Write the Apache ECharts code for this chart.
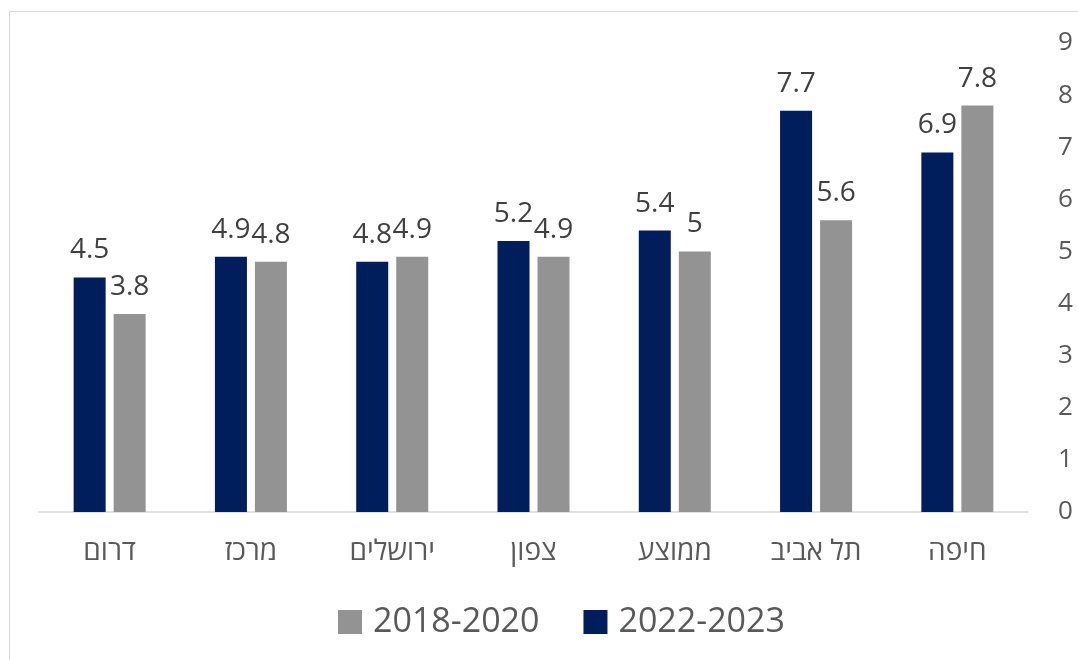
<!DOCTYPE html>
<html><head><meta charset="utf-8">
<script src="https://cdn.jsdelivr.net/npm/echarts@6/dist/echarts.min.js"></script>
<style>html,body{margin:0;padding:0;background:#fff}#c{width:1078px;height:660px}</style>
</head><body><div id="c"></div>
<script>
const categories = ['דרום','מרכז','ירושלים','צפון','ממוצע','תל אביב','חיפה'];
const values2022_2023 = [4.5, 4.9, 4.8, 5.2, 5.4, 7.7, 6.9];
const values2018_2020 = [3.8, 4.8, 4.9, 4.9, 5, 5.6, 7.8];
const seriesNames = ['2018-2020', '2022-2023'];
const yTicks = {min: 0, max: 9, interval: 1};

const font = '"Open Sans","Noto Sans",sans-serif';
const chart = echarts.init(document.getElementById('c'), null, {renderer: 'canvas'});
const labelCfg = {show: true, position: 'top', distance: 13, color: '#404040', fontSize: 28, fontFamily: font};
chart.setOption({
  animation: false,
  backgroundColor: '#fff',
  graphic: [{type: 'rect', shape: {x: 9.5, y: 11.5, width: 1200, height: 800}, style: {fill: 'none', stroke: '#d9d9d9', lineWidth: 1}, silent: true}],
  grid: {left: 39, right: 50, top: 43, bottom: 148},
  legend: {
    data: seriesNames, bottom: 16, left: 333, itemWidth: 24, itemHeight: 24, itemGap: 44,
    icon: 'rect', textStyle: {fontSize: 34, color: '#595959', fontFamily: font, padding: [0, 0, 0, 6]}
  },
  xAxis: {
    type: 'category', data: categories,
    axisLine: {lineStyle: {color: '#d9d9d9', width: 1.5}}, axisTick: {show: false},
    axisLabel: {fontSize: 28, color: '#595959', fontFamily: font, margin: 26}
  },
  yAxis: {
    type: 'value', position: 'right', min: yTicks.min, max: yTicks.max, interval: yTicks.interval,
    splitLine: {show: false}, axisLine: {show: false}, axisTick: {show: false},
    axisLabel: {fontSize: 26, color: '#595959', fontFamily: font, margin: 30, align: 'left'}
  },
  series: [
    {name: seriesNames[1], type: 'bar', data: values2022_2023, barWidth: 32, barGap: '25%',
     itemStyle: {color: '#001d5c'}, label: labelCfg},
    {name: seriesNames[0], type: 'bar', data: values2018_2020, barWidth: 32, barGap: '25%',
     itemStyle: {color: '#939393'}, label: labelCfg}
  ]
});
</script></body></html>
